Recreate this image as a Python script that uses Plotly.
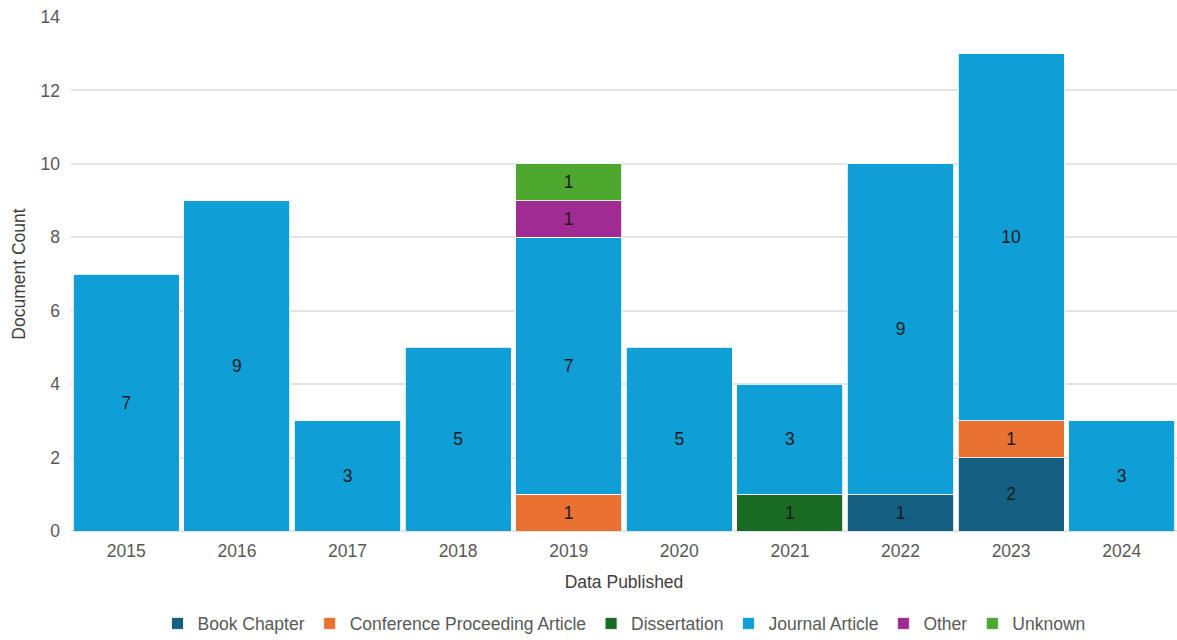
import plotly.graph_objects as go

years = ["2015", "2016", "2017", "2018", "2019", "2020", "2021", "2022", "2023", "2024"]

book_chapter = [None, None, None, None, None, None, None, 1, 2, None]
conference = [None, None, None, None, 1, None, None, None, 1, None]
dissertation = [None, None, None, None, None, None, 1, None, None, None]
journal = [7, 9, 3, 5, 7, 5, 3, 9, 10, 3]
other = [None, None, None, None, 1, None, None, None, None, None]
unknown = [None, None, None, None, 1, None, None, None, None, None]

series = [
    ("Book Chapter", book_chapter, "#156082"),
    ("Conference Proceeding Article", conference, "#E97132"),
    ("Dissertation", dissertation, "#196B24"),
    ("Journal Article", journal, "#0F9ED5"),
    ("Other", other, "#A02B93"),
    ("Unknown", unknown, "#4EA72E"),
]

font_family = "Liberation Sans, Arial, sans-serif"
fs = 17.5

fig = go.Figure()
for name, vals, color in series:
    fig.add_trace(go.Bar(
        x=years,
        y=vals,
        name=name,
        marker=dict(color=color, line=dict(color="white", width=0.8)),
        text=[str(v) if v else "" for v in vals],
        textposition="inside",
        insidetextanchor="middle",
        textangle=0,
        textfont=dict(color="#1a1a1a", size=fs, family=font_family),
        constraintext="none",
    ))

fig.update_layout(
    barmode="stack",
    bargap=0.04,
    width=1177,
    height=640,
    margin=dict(l=71, r=0, t=17, b=109, autoexpand=False),
    paper_bgcolor="white",
    plot_bgcolor="white",
    font=dict(family=font_family, size=fs, color="#595959"),
    xaxis=dict(
        title=dict(text="Data Published", font=dict(size=fs, color="#404040"), standoff=16),
        tickfont=dict(size=fs, color="#595959"),
        ticklabelstandoff=7,
        showgrid=False,
        showline=False,
        ticks="",
        automargin=False,
    ),
    yaxis=dict(
        title=dict(text="Document Count", font=dict(size=fs, color="#404040"), standoff=10),
        range=[0, 14],
        dtick=2,
        tickfont=dict(size=fs, color="#595959"),
        ticklabelstandoff=10,
        gridcolor="#E4E4E4",
        gridwidth=1.5,
        zeroline=True,
        zerolinecolor="#E4E4E4",
        ticks="",
        automargin=False,
    ),
    legend=dict(
        orientation="h",
        x=0.5,
        xanchor="center",
        y=-0.145,
        yanchor="top",
        font=dict(size=fs, color="#595959"),
        itemwidth=30,
        traceorder="normal",
    ),
)

fig.write_html("out.html")
